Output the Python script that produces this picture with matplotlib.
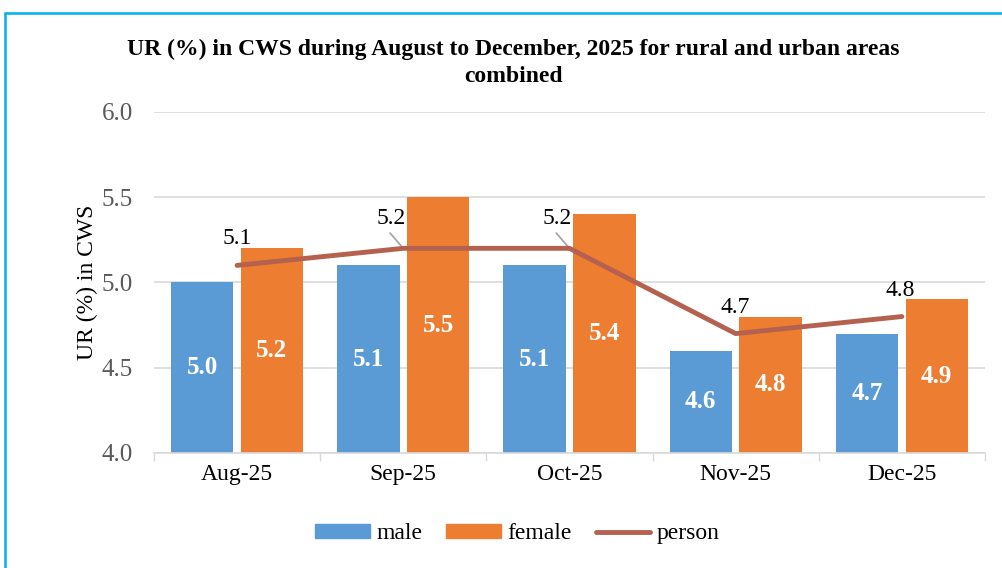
import matplotlib.pyplot as plt
import numpy as np
from matplotlib.patches import Rectangle, Patch
from matplotlib.lines import Line2D

plt.rcParams['font.family'] = ['Liberation Serif', 'DejaVu Serif']

# === Données ===
months = ["Aug-25", "Sep-25", "Oct-25", "Nov-25", "Dec-25"]
male = [5.0, 5.1, 5.1, 4.6, 4.7]
female = [5.2, 5.5, 5.4, 4.8, 4.9]
person = [5.1, 5.2, 5.2, 4.7, 4.8]

c_male = "#5B9BD5"
c_female = "#ED7D31"
c_person = "#B4614F"
grey = "#D9D9D9"

fig = plt.figure(figsize=(10.03, 5.68), dpi=100)
ax = fig.add_axes([0.1535, 0.2025, 0.8285, 0.6005])

x = np.arange(len(months))
w = 0.375
b1 = ax.bar(x - 0.21, male, w, color=c_male, zorder=2)
b2 = ax.bar(x + 0.21, female, w, color=c_female, zorder=2)
ax.plot(x, person, color=c_person, lw=3.5, solid_capstyle='round', zorder=3)

ax.bar_label(b1, labels=[f"{v:.1f}" for v in male], label_type='center',
             color='white', fontweight='bold', fontsize=18)
ax.bar_label(b2, labels=[f"{v:.1f}" for v in female], label_type='center',
             color='white', fontweight='bold', fontsize=18)

# étiquettes de la ligne "person"
offsets = [(0, 19.5), (-9, 21.5), (-9, 21.5), (0, 19), (-1.5, 19)]
for i, v in enumerate(person):
    dx, dy = offsets[i]
    ax.annotate(f"{v:.1f}", (x[i], v), xytext=(dx, dy), textcoords='offset points',
                ha='center', va='center', fontsize=17, zorder=4)
    if i in (1, 2):
        # trait de rappel
        ax.annotate("", (x[i], v), xytext=(-9.5, 11), textcoords='offset points',
                    arrowprops=dict(arrowstyle='-', color='#A6A6A6', lw=1.3,
                                    shrinkA=0, shrinkB=1), zorder=2.5)

ax.set_ylim(4.0, 6.0)
ax.set_xlim(-0.5, 4.5)
ax.set_yticks([4.0, 4.5, 5.0, 5.5, 6.0])
ax.set_yticklabels([f"{t:.1f}" for t in [4.0, 4.5, 5.0, 5.5, 6.0]])
ax.set_xticks(x)
ax.set_xticklabels(months)
ax.set_xticks(np.arange(-0.5, 5, 1), minor=True)
ax.tick_params(axis='x', which='major', length=0, labelsize=17, pad=8)
ax.tick_params(axis='x', which='minor', length=6, color=grey, width=1)
ax.tick_params(axis='y', length=0, labelsize=18, labelcolor='#595959', pad=15)
ax.yaxis.grid(True, color=grey, lw=1.2, zorder=0)
ax.set_axisbelow(True)
for s in ['top', 'right', 'left']:
    ax.spines[s].set_visible(False)
ax.spines['bottom'].set_color(grey)
ax.spines['bottom'].set_linewidth(1.2)

ax.set_ylabel("UR (%) in CWS", fontsize=17, labelpad=3)

fig.text(0.512, 0.913, "UR (%) in CWS during August to December, 2025 for rural and urban areas",
         ha='center', va='center', fontsize=17, fontweight='bold')
fig.text(0.512, 0.866, "combined", ha='center', va='center', fontsize=17, fontweight='bold')

handles = [Patch(color=c_male), Patch(color=c_female),
           Line2D([0], [0], color=c_person, lw=3.5, solid_capstyle='round')]
fig.legend(handles, ["male", "female", "person"], loc='center', ncol=3,
           bbox_to_anchor=(0.516, 0.06), frameon=False, fontsize=17,
           handlelength=2.3, handleheight=0.55, columnspacing=1.0, handletextpad=0.3)

# cadre bleu
fig.patches.append(Rectangle((5 / 1003, -0.05), 1.1, (568 - 13) / 568 + 0.05,
                             transform=fig.transFigure, fill=False,
                             edgecolor='#00B0F0', lw=1.8))

fig.savefig("out.png", dpi=100)
